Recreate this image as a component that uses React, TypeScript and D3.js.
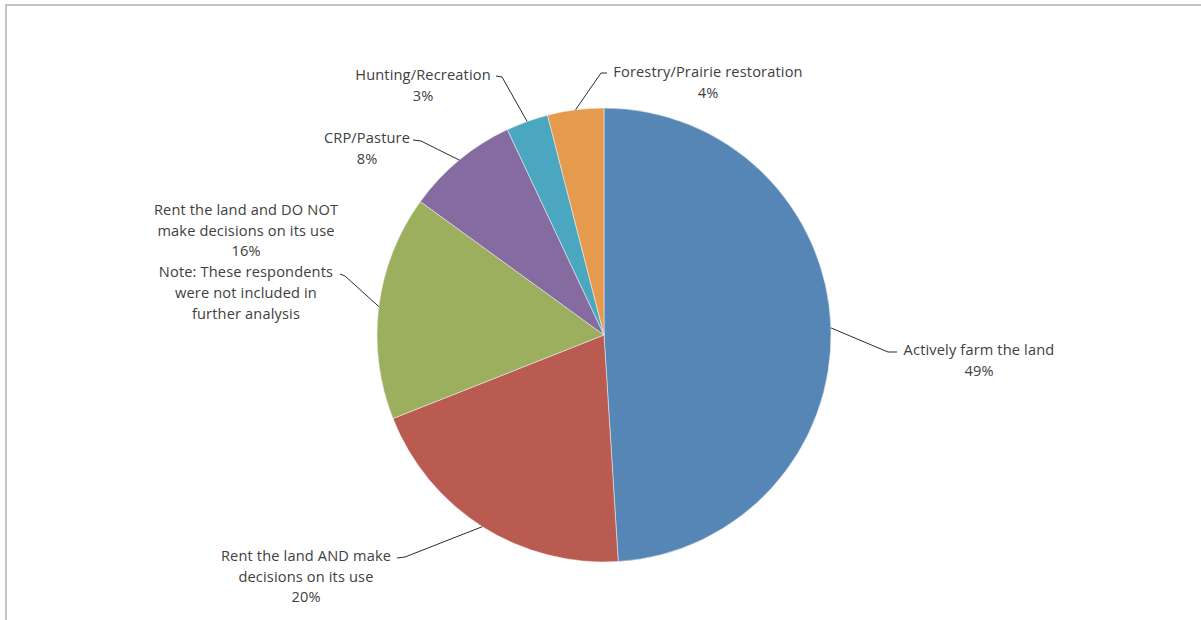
import React from "react";
import * as d3 from "d3";

const categories = [
  "Actively farm the land",
  "Rent the land AND make decisions on its use",
  "Rent the land and DO NOT make decisions on its use",
  "CRP/Pasture",
  "Hunting/Recreation",
  "Forestry/Prairie restoration",
];
const values = [49, 20, 16, 8, 3, 4];
const colors = ["#5586b6", "#b95b51", "#9caf5e", "#856b9f", "#4ba7bf", "#e69a4d"];
const labelLines = [
  ["Actively farm the land", "49%"],
  ["Rent the land AND make", "decisions on its use", "20%"],
  ["Rent the land and DO NOT", "make decisions on its use", "16%", "Note: These respondents", "were not included in", "further analysis"],
  ["CRP/Pasture", "8%"],
  ["Hunting/Recreation", "3%"],
  ["Forestry/Prairie restoration", "4%"],
];

// layout of label blocks (center x, first line y, elbow, stub end)
const labelLayout = [
  { x: 979, y: 351, elbow: [888, 352], stub: [897, 352] },
  { x: 306, y: 557, elbow: [405, 557], stub: [397, 558] },
  { x: 246, y: 211, elbow: [345, 276], stub: [340, 274] },
  { x: 367, y: 139, elbow: [421, 141], stub: [413, 140] },
  { x: 423, y: 76, elbow: [502, 77], stub: [496, 76] },
  { x: 708, y: 73, elbow: [601, 73], stub: [607, 73] },
];

const W = 1201;
const H = 620;
const cx = 604;
const cy = 335;
const R = 227;
const lineGap = 20.7;

export default function App() {
  const pie = d3.pie<number>().sort(null).value((d) => d).startAngle(0).endAngle(2 * Math.PI);
  const arcs = pie(values);
  const arcGen = d3.arc<d3.PieArcDatum<number>>().innerRadius(0).outerRadius(R);
  const edgeArc = d3.arc<d3.PieArcDatum<number>>().innerRadius(R).outerRadius(R);

  return (
    <svg
      width={W}
      height={H}
      style={{ position: "absolute", left: 0, top: 0, background: "#fff" }}
      fontFamily="'Open Sans', Lato, sans-serif"
    >
      <rect x={0} y={0} width={W} height={H} fill="#fff" />
      <line x1={5} y1={5} x2={W} y2={5} stroke="#c4c4c4" strokeWidth={2} />
      <line x1={6} y1={5} x2={6} y2={H} stroke="#c4c4c4" strokeWidth={2} />
      <g transform={`translate(${cx},${cy})`}>
        {arcs.map((a, i) => (
          <path key={categories[i]} d={arcGen(a) || ""} fill={colors[i]} stroke="#f4f4f4" strokeWidth={0.5} />
        ))}
      </g>
      {arcs.map((a, i) => {
        const [px, py] = edgeArc.centroid(a);
        const L = labelLayout[i];
        const pts: [number, number][] = [[cx + px, cy + py], L.elbow as [number, number], L.stub as [number, number]];
        return (
          <path
            key={"leader" + i}
            d={d3.line()(pts) || ""}
            fill="none"
            stroke="#2b2b2b"
            strokeWidth={1}
          />
        );
      })}
      {labelLines.map((lines, i) => (
        <text
          key={"label" + i}
          x={labelLayout[i].x}
          fontSize={14.6}
          letterSpacing={0.15}
          fill="#404040"
          textAnchor="middle"
          dominantBaseline="middle"
        >
          {lines.map((t, j) => (
            <tspan key={j} x={labelLayout[i].x} y={labelLayout[i].y + j * lineGap}>
              {t}
            </tspan>
          ))}
        </text>
      ))}
    </svg>
  );
}
